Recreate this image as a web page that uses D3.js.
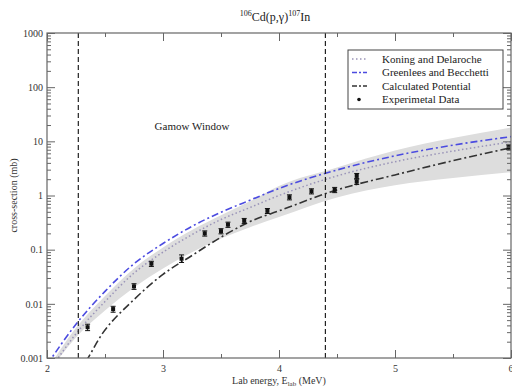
<!DOCTYPE html>
<html>
<head>
<meta charset="utf-8">
<script src="https://cdn.jsdelivr.net/npm/d3@7"></script>
<style>
  body { margin: 0; background: #fff; }
  svg { display: block; }
  svg text { font-family: "Liberation Serif", "Times New Roman", Tinos, "DejaVu Serif", serif; }
</style>
</head>
<body>
<div id="chart"></div>
<script>
const energies = [2.0, 2.25, 2.5, 2.75, 3.0, 3.25, 3.5, 3.75, 4.0, 4.5, 5.0, 5.5, 6.0];
const koning    = [0.0005, 0.0028, 0.011, 0.037, 0.09, 0.19, 0.36, 0.6, 1.0, 2.3, 4.2, 6.6, 9.8];
const greenlees = [0.00075, 0.0042, 0.017, 0.055, 0.13, 0.27, 0.49, 0.82, 1.35, 2.96, 5.4, 8.5, 12.2];
const calculated = [0.0003, 0.0005, 0.0033, 0.012, 0.035, 0.078, 0.17, 0.33, 0.52, 1.27, 2.4, 4.4, 7.6];
const bandUpper = [0.0006, 0.0036, 0.014, 0.045, 0.11, 0.23, 0.43, 0.78, 1.5, 3.3, 6.8, 11.5, 18];
const bandLower = [0.0005, 0.0024, 0.0075, 0.02, 0.045, 0.09, 0.16, 0.26, 0.4, 0.92, 1.55, 2.1, 2.7];

// experimental data
const expE  = [2.35, 2.57, 2.75, 2.90, 3.16, 3.36, 3.50, 3.56, 3.70, 3.90, 4.09, 4.28, 4.48, 4.67, 4.67, 5.98];
const expS  = [0.0037, 0.008, 0.021, 0.055, 0.068, 0.2, 0.22, 0.29, 0.34, 0.52, 0.93, 1.2, 1.27, 1.8, 2.3, 7.8];
const expLo = [0.0032, 0.007, 0.0185, 0.049, 0.058, 0.178, 0.196, 0.258, 0.303, 0.465, 0.83, 1.07, 1.13, 1.6, 2.05, 7.0];
const expHi = [0.0042, 0.009, 0.0235, 0.061, 0.08, 0.222, 0.244, 0.322, 0.377, 0.575, 1.03, 1.33, 1.41, 2.0, 2.55, 8.6];

const gamowWindow = [2.27, 4.40];
const xTicks = [2, 3, 4, 5, 6];
const xMinor = [2.5, 3.5, 4.5, 5.5];
const yTicks = [0.001, 0.01, 0.1, 1, 10, 100, 1000];
const yTickLabels = ["0.001", "0.01", "0.1", "1", "10", "100", "1000"];

const W = 512, H = 388;
const margin = { top: 33, right: 1, bottom: 30, left: 47 };
const serif = '"Liberation Serif", "Times New Roman", Tinos, "DejaVu Serif", serif';

const svg = d3.select('#chart').append('svg')
  .attr('width', W).attr('height', H);

const x = d3.scaleLinear().domain([2, 6]).range([margin.left, W - margin.right]);
const y = d3.scaleLog().domain([0.001, 1000]).range([H - margin.bottom, margin.top]);

svg.append('defs').append('clipPath').attr('id', 'clip')
  .append('rect')
  .attr('x', x(2)).attr('y', y(1000))
  .attr('width', x(6) - x(2)).attr('height', y(0.001) - y(1000));

const plot = svg.append('g').attr('clip-path', 'url(#clip)');

const rows = energies.map((e, i) => ({ e, k: koning[i], g: greenlees[i], c: calculated[i], hi: bandUpper[i], lo: bandLower[i] }));

const area = d3.area()
  .x(d => x(d.e))
  .y0(d => y(d.lo))
  .y1(d => y(d.hi))
  .curve(d3.curveMonotoneX);

plot.append('path').datum(rows).attr('fill', '#dddddd').attr('d', area);

const line = d3.line().x(d => x(d.e)).curve(d3.curveMonotoneX);

plot.append('path').datum(rows)
  .attr('fill', 'none').attr('stroke', '#9a94b8').attr('stroke-width', 1.5)
  .attr('stroke-dasharray', '1.5,2.5')
  .attr('d', line.y(d => y(d.k)));

plot.append('path').datum(rows)
  .attr('fill', 'none').attr('stroke', '#4b4be0').attr('stroke-width', 1.6)
  .attr('stroke-dasharray', '7,3,2,3')
  .attr('d', line.y(d => y(d.g)));

plot.append('path').datum(rows)
  .attr('fill', 'none').attr('stroke', '#333').attr('stroke-width', 1.6)
  .attr('stroke-dasharray', '8,3,2,3')
  .attr('d', line.y(d => y(d.c)));

// Gamow window
plot.selectAll('.gamow').data(gamowWindow).enter().append('line')
  .attr('x1', d => x(d)).attr('x2', d => x(d))
  .attr('y1', y(1000)).attr('y2', y(0.001))
  .attr('stroke', '#222').attr('stroke-width', 1.2)
  .attr('stroke-dasharray', '5,3');

svg.append('text')
  .attr('x', x(3.25)).attr('y', y(16))
  .attr('text-anchor', 'middle')
  .style('font-size', '11px').attr('fill', '#222')
  .text('Gamow Window');

// experimental points
const pts = expE.map((e, i) => ({ e, s: expS[i], lo: expLo[i], hi: expHi[i] }));
const eb = plot.selectAll('.pt').data(pts).enter().append('g');
eb.append('line')
  .attr('x1', d => x(d.e)).attr('x2', d => x(d.e))
  .attr('y1', d => y(d.lo)).attr('y2', d => y(d.hi))
  .attr('stroke', '#111').attr('stroke-width', 1);
eb.append('line')
  .attr('x1', d => x(d.e) - 2.5).attr('x2', d => x(d.e) + 2.5)
  .attr('y1', d => y(d.lo)).attr('y2', d => y(d.lo))
  .attr('stroke', '#111').attr('stroke-width', 1);
eb.append('line')
  .attr('x1', d => x(d.e) - 2.5).attr('x2', d => x(d.e) + 2.5)
  .attr('y1', d => y(d.hi)).attr('y2', d => y(d.hi))
  .attr('stroke', '#111').attr('stroke-width', 1);
eb.append('rect')
  .attr('x', d => x(d.e) - 2).attr('y', d => y(d.s) - 2)
  .attr('width', 4).attr('height', 4)
  .attr('fill', '#111');

// axes (ticks inward, mirrored on top/right)
const yMinor = y.ticks().filter(v => !yTicks.some(t => Math.abs(Math.log10(v) - Math.log10(t)) < 1e-6));
const axisColor = '#666';

function style(g) {
  g.select('.domain').remove();
  g.selectAll('.tick line').attr('stroke', axisColor);
  g.selectAll('.tick text').attr('fill', '#333').style('font-size', '10px')
    .style('font-family', serif);
}

svg.append('g').attr('transform', `translate(0,${y(0.001)})`)
  .call(d3.axisBottom(x).tickValues(xTicks).tickSize(-8).tickPadding(7).tickFormat(d3.format('d')))
  .call(style)
  .call(g => g.selectAll('.tick:last-of-type text').attr('text-anchor', 'end').attr('x', 2));
svg.append('g').attr('transform', `translate(0,${y(0.001)})`)
  .call(d3.axisBottom(x).tickValues(xMinor).tickSize(-4).tickFormat(''))
  .call(style);
svg.append('g').attr('transform', `translate(0,${y(1000)})`)
  .call(d3.axisTop(x).tickValues(xTicks).tickSize(-8).tickFormat(''))
  .call(style);
svg.append('g').attr('transform', `translate(0,${y(1000)})`)
  .call(d3.axisTop(x).tickValues(xMinor).tickSize(-4).tickFormat(''))
  .call(style);

svg.append('g').attr('transform', `translate(${x(2)},0)`)
  .call(d3.axisLeft(y).tickValues(yTicks).tickSize(-8).tickPadding(4).tickFormat((d, i) => yTickLabels[i]))
  .call(style);
svg.append('g').attr('transform', `translate(${x(2)},0)`)
  .call(d3.axisLeft(y).tickValues(yMinor).tickSize(-4).tickFormat(''))
  .call(style);
svg.append('g').attr('transform', `translate(${x(6)},0)`)
  .call(d3.axisRight(y).tickValues(yTicks).tickSize(-8).tickFormat(''))
  .call(style);
svg.append('g').attr('transform', `translate(${x(6)},0)`)
  .call(d3.axisRight(y).tickValues(yMinor).tickSize(-4).tickFormat(''))
  .call(style);

// frame
svg.append('rect')
  .attr('x', x(2)).attr('y', y(1000))
  .attr('width', x(6) - x(2)).attr('height', y(0.001) - y(1000))
  .attr('fill', 'none').attr('stroke', axisColor).attr('stroke-width', 1.2);

// title
const title = svg.append('text')
  .attr('x', 275).attr('y', 21)
  .attr('text-anchor', 'middle')
  .style('font-size', '12px').attr('fill', '#222');
title.append('tspan').attr('dy', '-5').style('font-size', '8px').text('106');
title.append('tspan').attr('dy', '5').text('Cd(p,γ)');
title.append('tspan').attr('dy', '-5').style('font-size', '8px').text('107');
title.append('tspan').attr('dy', '5').text('In');

// axis labels
const xl = svg.append('text')
  .attr('x', 279).attr('y', 384)
  .attr('text-anchor', 'middle')
  .style('font-size', '10px').attr('fill', '#333');
xl.append('tspan').text('Lab energy, E');
xl.append('tspan').attr('dy', '2').style('font-size', '7px').text('lab');
xl.append('tspan').attr('dy', '-2').text(' (MeV)');

svg.append('text')
  .attr('transform', `translate(17,${(y(1000) + y(0.001)) / 2}) rotate(-90)`)
  .attr('text-anchor', 'middle')
  .style('font-size', '10px').attr('fill', '#333')
  .text('cross-section (mb)');

// legend
const legend = svg.append('g').attr('transform', 'translate(348,50)');
legend.append('rect').attr('width', 155).attr('height', 59)
  .attr('fill', '#fff').attr('stroke', '#444').attr('stroke-width', 1);

const legendItems = [
  { label: 'Koning and Delaroche', stroke: '#9a94b8', dash: '1.5,2.5' },
  { label: 'Greenlees and Becchetti', stroke: '#4b4be0', dash: '5,2,2,2' },
  { label: 'Calculated Potential', stroke: '#333', dash: '5,2,2,2' },
  { label: 'Experimetal Data', dot: true }
];

legendItems.forEach((it, i) => {
  const gy = 9 + i * 13.5;
  if (it.dot) {
    legend.append('circle').attr('cx', 11).attr('cy', gy).attr('r', 1.8).attr('fill', '#111');
  } else {
    legend.append('line').attr('x1', 4).attr('x2', 19).attr('y1', gy).attr('y2', gy)
      .attr('stroke', it.stroke).attr('stroke-width', 1.5).attr('stroke-dasharray', it.dash);
  }
  legend.append('text').attr('x', 34).attr('y', gy + 3.5)
    .style('font-size', '11px').attr('fill', '#222').text(it.label);
});
</script>
</body>
</html>
